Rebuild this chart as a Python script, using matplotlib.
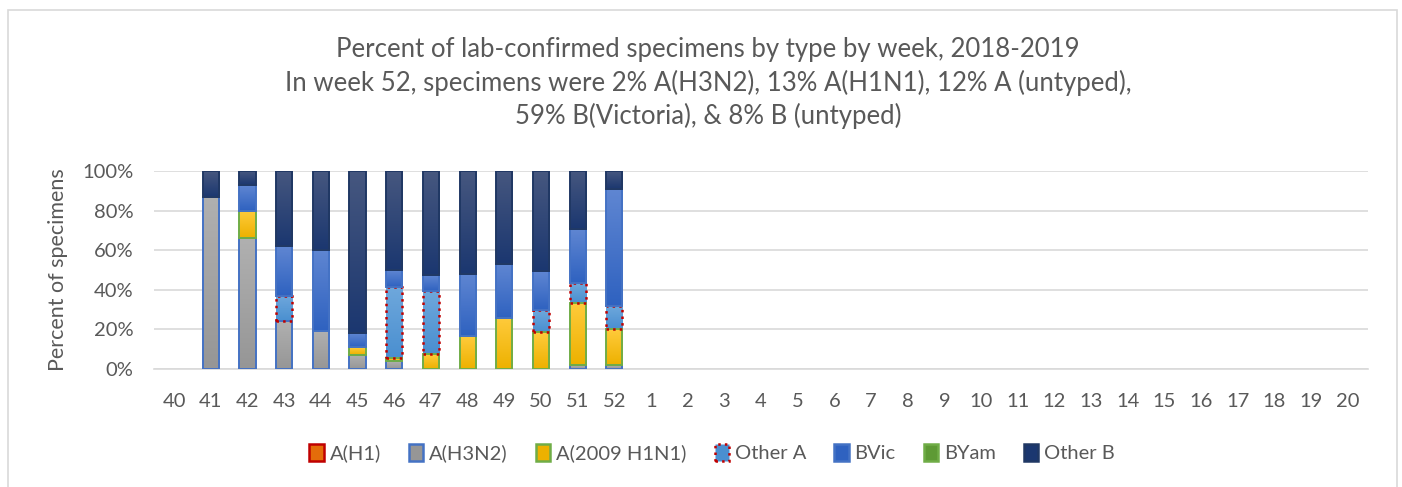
import matplotlib

matplotlib.use("Agg")
import matplotlib.pyplot as plt
import numpy as np
from matplotlib.colors import LinearSegmentedColormap
from matplotlib.patches import Patch, Rectangle

weeks = ["40", "41", "42", "43", "44", "45", "46", "47", "48", "49", "50", "51", "52"] + [
    str(w) for w in range(1, 21)
]
n_data = 13

# percent of specimens per week (weeks 40-52)
a_h1 = [0, 0, 0, 0, 0, 0, 0, 0, 0, 0, 0, 0, 0]
a_h3n2 = [0, 87, 66, 24, 19, 7, 4, 0, 0, 0, 0, 2, 2]
a_h1n1 = [0, 0, 14, 0, 0, 4, 1.5, 7.5, 16.5, 26, 18.5, 31.5, 18]
other_a = [0, 0, 0, 13, 0, 0, 36, 32, 0, 0, 11.5, 10, 12]
bvic = [0, 0, 13, 25, 41, 7, 8.5, 8, 31.5, 27, 19.5, 27, 59]
byam = [0, 0, 0, 0, 0, 0, 0, 0, 0, 0, 0, 0, 0]
other_b = [0, 13, 7, 38, 40, 82, 50, 52.5, 52, 47, 50.5, 29.5, 9]

series = [
    ("A(H1)", a_h1, ("#F4A060", "#E46C0A"), "#C00000", "-"),
    ("A(H3N2)", a_h3n2, ("#B0B0B0", "#969696"), "#4472C4", "-"),
    ("A(2009 H1N1)", a_h1n1, ("#FFCB3C", "#EDB100"), "#70AD47", "-"),
    ("Other A", other_a, ("#6FA8DC", "#4A8FD0"), "#C00000", ":"),
    ("BVic", bvic, ("#5F86D2", "#2F62C0"), "#4472C4", "-"),
    ("BYam", byam, ("#8CC266", "#5E9A35"), "#70AD47", "-"),
    ("Other B", other_b, ("#46577F", "#1B3770"), "#203864", "-"),
]

text_color = "#595959"
plt.rcParams["font.family"] = ["Lato", "DejaVu Sans"]

fig = plt.figure(figsize=(14.02, 4.87), dpi=100)
fig.patches.append(Rectangle((8 / 1402, -0.1), 1389 / 1402, 1.1 - 10 / 487,
                             transform=fig.transFigure, fill=False,
                             edgecolor="#D9D9D9", linewidth=1.2))
ax = fig.add_axes([154 / 1402, 1 - 369 / 487, (1368 - 154) / 1402, (369 - 171) / 487])

x = np.arange(len(weeks))
bottom = np.zeros(n_data)
width = 0.44
for name, vals, (top_c, bot_c), edge, ls in series:
    vals = np.array(vals, dtype=float)
    bars = ax.bar(x[:n_data], vals, width, bottom=bottom, facecolor="none",
                  edgecolor=edge, linewidth=1.8 if ls == ":" else 1.4,
                  linestyle=ls, zorder=4)
    cmap = LinearSegmentedColormap.from_list(name, [bot_c, top_c])
    grad = np.linspace(0, 1, 64).reshape(-1, 1)
    for rect, v in zip(bars, vals):
        if v <= 0:
            rect.set_edgecolor("none")
            continue
        rx, ry = rect.get_x(), rect.get_y()
        ax.imshow(grad, extent=[rx, rx + width, ry, ry + v], origin="lower",
                  cmap=cmap, aspect="auto", zorder=3, interpolation="bilinear")
    bottom += vals

ax.set_xlim(-0.55, len(weeks) - 0.45)
ax.set_ylim(0, 100)
ax.set_xticks(x)
ax.set_xticklabels(weeks)
ax.set_yticks(range(0, 101, 20))
ax.set_yticklabels([f"{v}%" for v in range(0, 101, 20)])
ax.tick_params(length=0, labelsize=14.5, colors=text_color)
ax.tick_params(axis="x", pad=17)
ax.tick_params(axis="y", pad=15)
ax.grid(axis="y", color="#D9D9D9", linewidth=1.2, zorder=0)
ax.set_axisbelow(True)
for side in ["top", "right", "left"]:
    ax.spines[side].set_visible(False)
ax.spines["bottom"].set_color("#D9D9D9")
ax.spines["bottom"].set_linewidth(1.2)
ax.set_ylabel("Percent of specimens", fontsize=15.5, color=text_color, labelpad=10)

fig.text(0.505, 1 - 83 / 487,
         "Percent of lab-confirmed specimens by type by week, 2018-2019\n"
         "In week 52, specimens were 2% A(H3N2), 13% A(H1N1), 12% A (untyped),\n"
         "59% B(Victoria), & 8% B (untyped)",
         ha="center", va="center", fontsize=18.5, color=text_color, linespacing=1.33)

handles = [Patch(facecolor=c[1], edgecolor=e, linewidth=1.8, linestyle=ls, label=n)
           for n, _, c, e, ls in series]
fig.legend(handles=handles, loc="center", bbox_to_anchor=(0.508, 1 - 453 / 487),
           ncol=7, frameon=False, fontsize=14.5, handlelength=0.7, handleheight=0.9,
           handletextpad=0.3, columnspacing=1.4, labelcolor=text_color)

fig.savefig("out.png", dpi=100)
